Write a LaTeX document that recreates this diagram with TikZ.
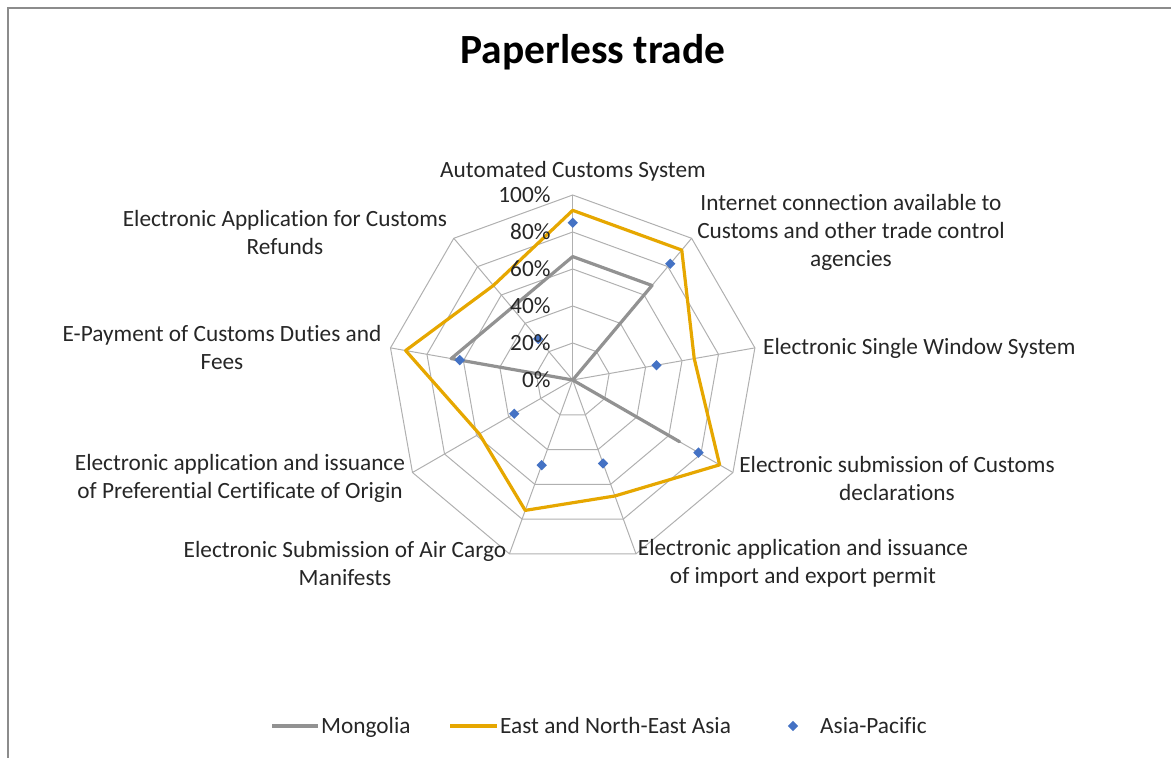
\documentclass[tikz,border=0pt]{standalone}
\usepackage{fontspec}
\setmainfont{Carlito}[Ligatures=NoCommon]
\usetikzlibrary{shapes.geometric}

\definecolor{framegray}{HTML}{8C8C8C}
\definecolor{webgray}{HTML}{B0B0B0}
\definecolor{mongray}{HTML}{929292}
\definecolor{neagold}{HTML}{E6A700}
\definecolor{apblue}{HTML}{4472C4}
\definecolor{labtext}{HTML}{262626}

\tikzset{
  webline/.style={draw=webgray, line width=1},
  monline/.style={draw=mongray, line width=3.2, line join=round},
  nealine/.style={draw=neagold, line width=3.2, line join=round},
  apmark/.style={diamond, fill=apblue, inner sep=0, minimum size=10.5},
  axislab/.style={text=labtext, inner sep=0, align=center},
  pctlab/.style={text=labtext, inner sep=0, anchor=east}
}

\begin{document}
\begin{tikzpicture}[x=1pt, y=-1pt, font=\fontsize{23.3}{28}\selectfont]

\useasboundingbox (0,0) rectangle (1171,758);
\draw[framegray, line width=1.5] (8,800) -- (8,8) -- (1200,8);

\node[inner sep=0, font=\fontsize{41.5}{48}\selectfont\bfseries] (title) at (593,52) {Paperless trade};

\begin{scope}[shift={(572.7,380)}]

\foreach \r in {37,74,111,148,185}
    \draw[webline] (-90:\r) \foreach \k in {1,...,8} { -- (40*\k-90:\r) } -- cycle;

\foreach \k in {0,...,8}
    \draw[webline] (0,0) -- (40*\k-90:185);

\draw[monline] (-90:1.85*66.7) -- (-50:1.85*66.7) -- (0,0) -- (30:1.85*66.7) -- (0,0)
    -- (190:1.85*66.7) -- cycle;

\draw[nealine] (-90:1.85*91.7) -- (-50:1.85*91.7) -- (-10:1.85*66.7) -- (30:1.85*91.7)
    -- (70:1.85*66.7) -- (110:1.85*75) -- (150:1.85*58.3) -- (190:1.85*91.7)
    -- (230:1.85*66.7) -- cycle;

\foreach \v [count=\k from 0] in {85,82,46,78.5,48,49,36.5,62,29}
    \node[apmark] (ap\k) at (40*\k-90:1.85*\v) {};

\foreach \p in {0,20,40,60,80,100}
    \node[pctlab] (pct\p) at (-22,-1.85*\p) {\p\%};

\end{scope}

\node[axislab] (acs) at (573,171) {Automated Customs System};
\node[axislab] (inet) at (851,232) {Internet connection available to\\Customs and other trade control\\agencies};
\node[axislab, anchor=west] (esw) at (763,348) {Electronic Single Window System};
\node[axislab] (ecd) at (897,478) {Electronic submission of Customs\\declarations};
\node[axislab] (eiep) at (803,563) {Electronic application and issuance\\of import and export permit};
\node[axislab] (eacm) at (345,563) {Electronic Submission of Air Cargo\\Manifests};
\node[axislab] (epco) at (240,478) {Electronic application and issuance\\of Preferential Certificate of Origin};
\node[axislab] (epay) at (222,347) {E-Payment of Customs Duties and\\Fees};
\node[axislab] (eref) at (285,232) {Electronic Application for Customs\\Refunds};

\coordinate (monA) at (272,726);
\coordinate (monB) at (318,726);
\coordinate (neaA) at (450,726);
\coordinate (neaB) at (497,726);
\draw[monline, line cap=butt] (monA) -- (monB);
\node[axislab, anchor=base west] (monlab) at (321,733.5) {Mongolia};
\draw[nealine, line cap=butt] (neaA) -- (neaB);
\node[axislab, anchor=base west] (nealab) at (500,733.5) {East and North-East Asia};
\node[apmark] (apkey) at (793,726) {};
\node[axislab, anchor=base west] (aplab) at (820,733.5) {Asia-Pacific};

\end{tikzpicture}
\end{document}
